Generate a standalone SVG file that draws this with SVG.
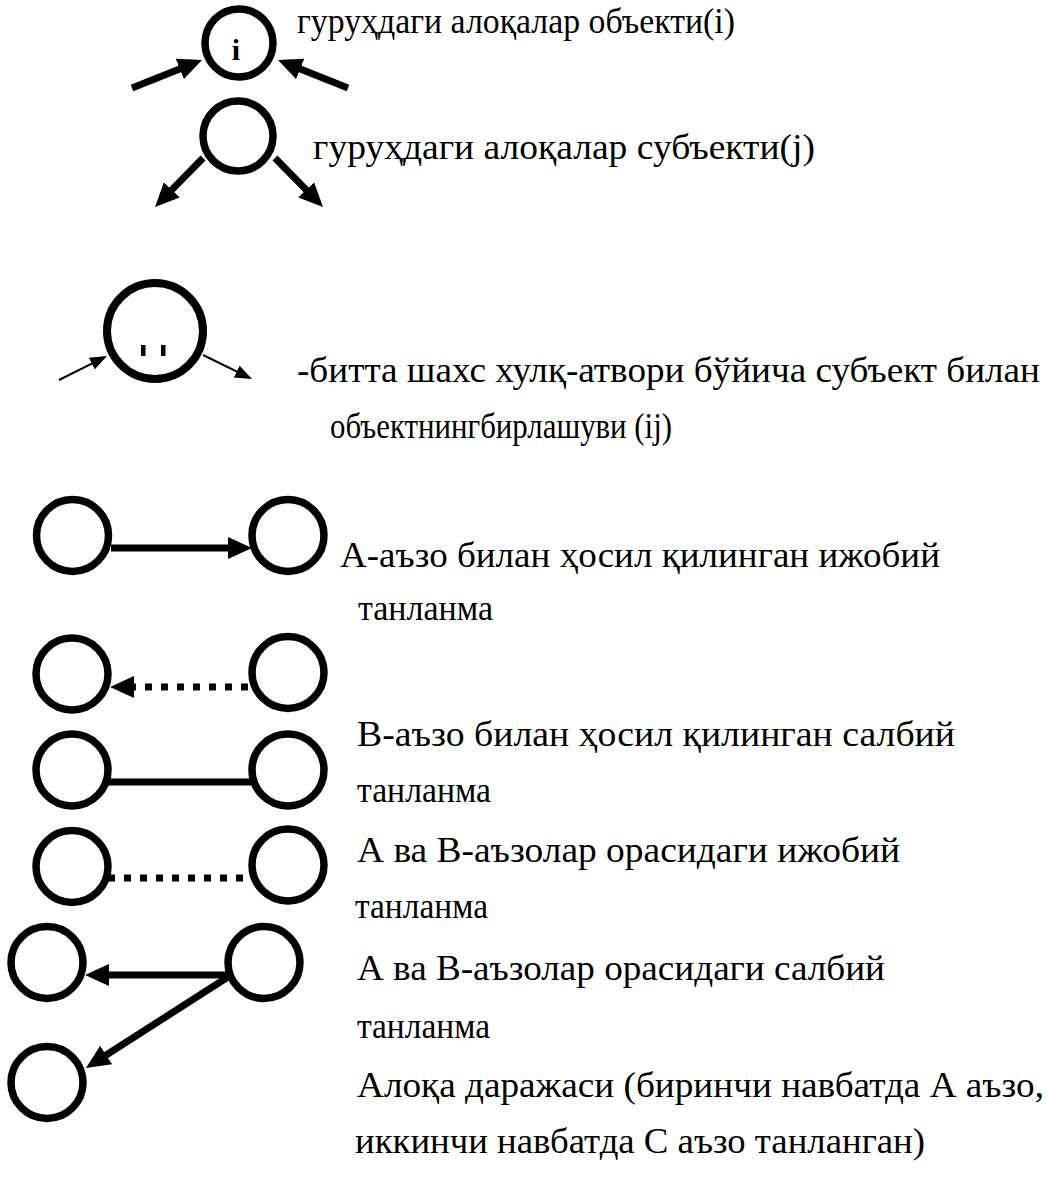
<svg xmlns="http://www.w3.org/2000/svg" width="1049" height="1203" viewBox="0 0 1049 1203">
<style>
.n{fill:none;stroke:#000;stroke-width:7.5}
.t{font-family:"Liberation Serif","Times New Roman",serif;font-size:36px;fill:#000}
.c{stroke:#000;stroke-width:7;fill:none}
.thin{stroke:#000;stroke-width:2;fill:none}
.dot{stroke-dasharray:7 9}
</style>
<defs>
<marker id="ah" markerUnits="userSpaceOnUse" markerWidth="24" markerHeight="22" refX="6" refY="11" orient="auto" viewBox="0 0 24 22">
<path d="M0,0 L24,11 L0,22 z" fill="#000"/>
</marker>
<marker id="as" markerUnits="userSpaceOnUse" markerWidth="17" markerHeight="13" refX="14" refY="6.5" orient="auto" viewBox="0 0 17 13">
<path d="M0,0 L17,6.5 L0,13 z" fill="#000"/>
</marker>
</defs>
<rect width="1049" height="1203" fill="#fff"/>
<g id="node-object">
<circle class="n" cx="239" cy="43" r="34"/>
<text x="236" y="60" font-family="Liberation Serif,serif" font-weight="bold" font-size="30" text-anchor="middle">i</text>
</g>
<g id="node-subject">
<circle class="n" cx="238" cy="136" r="35"/>
</g>
<g id="node-ij">
<circle cx="155" cy="331" r="48" fill="none" stroke="#000" stroke-width="8"/>
<rect x="141" y="345" width="4.5" height="11" fill="#000"/>
<rect x="161" y="345" width="4.5" height="11" fill="#000"/>
</g>
<g id="row1">
<circle class="n" cx="72.5" cy="535.5" r="36"/>
<circle class="n" cx="288" cy="535.5" r="36"/>
</g>
<g id="row2">
<circle class="n" cx="72" cy="674" r="36"/>
<circle class="n" cx="288" cy="672.5" r="36"/>
</g>
<g id="row3">
<circle class="n" cx="72" cy="770" r="36"/>
<circle class="n" cx="288" cy="770" r="36"/>
</g>
<g id="row4">
<circle class="n" cx="72" cy="866.5" r="36"/>
<circle class="n" cx="288" cy="865" r="36"/>
</g>
<g id="row5">
<circle class="n" cx="47" cy="962.5" r="36"/>
<circle class="n" cx="264" cy="962.5" r="36"/>
<circle class="n" cx="47" cy="1082.5" r="36"/>
</g>
<g id="connectors">
<line class="c" x1="132" y1="88" x2="185.3" y2="66.7" marker-end="url(#ah)"/>
<line class="c" x1="348" y1="88" x2="294.7" y2="66.7" marker-end="url(#ah)"/>
<line class="c" x1="203" y1="158" x2="167.6" y2="194.1" marker-end="url(#ah)"/>
<line class="c" x1="275" y1="158" x2="310.4" y2="194.1" marker-end="url(#ah)"/>
<line class="thin" x1="59" y1="380" x2="104.3" y2="357.3" marker-end="url(#as)"/>
<line class="thin" x1="203" y1="355" x2="249.3" y2="377.7" marker-end="url(#as)"/>
<line class="c" x1="111" y1="548" x2="234" y2="548" marker-end="url(#ah)"/>
<line class="c dot" x1="248" y1="687" x2="128" y2="687" marker-end="url(#ah)"/>
<line class="c" x1="108" y1="782" x2="252" y2="782"/>
<line class="c dot" x1="108" y1="878" x2="248" y2="878"/>
<line class="c" x1="228" y1="975" x2="103" y2="975" marker-end="url(#ah)"/>
<line class="c" x1="228" y1="977" x2="101.1" y2="1058.2" marker-end="url(#ah)"/>
</g>
<g id="labels">
<text class="t" x="297" y="33" textLength="438" lengthAdjust="spacingAndGlyphs">гуруҳдаги алоқалар объекти(i)</text>
<text class="t" x="313" y="159" textLength="502" lengthAdjust="spacingAndGlyphs">гуруҳдаги алоқалар субъекти(j)</text>
<text class="t" x="297" y="382" textLength="743" lengthAdjust="spacingAndGlyphs">-битта шахс хулқ-атвори бўйича субъект билан</text>
<text class="t" x="330" y="438" textLength="342" lengthAdjust="spacingAndGlyphs">объектнингбирлашуви (ij)</text>
<text class="t" x="340" y="567" textLength="600" lengthAdjust="spacingAndGlyphs">А-аъзо билан ҳосил қилинган ижобий</text>
<text class="t" x="358" y="620" textLength="135" lengthAdjust="spacingAndGlyphs">танланма</text>
<text class="t" x="357" y="746" textLength="598" lengthAdjust="spacingAndGlyphs">В-аъзо билан ҳосил қилинган салбий</text>
<text class="t" x="357" y="802" textLength="134" lengthAdjust="spacingAndGlyphs">танланма</text>
<text class="t" x="357" y="862" textLength="543" lengthAdjust="spacingAndGlyphs">А ва В-аъзолар орасидаги ижобий</text>
<text class="t" x="355" y="918" textLength="133" lengthAdjust="spacingAndGlyphs">танланма</text>
<text class="t" x="357" y="980" textLength="528" lengthAdjust="spacingAndGlyphs">А ва В-аъзолар орасидаги салбий</text>
<text class="t" x="357" y="1038" textLength="133" lengthAdjust="spacingAndGlyphs">танланма</text>
<text class="t" x="357" y="1097" textLength="687" lengthAdjust="spacingAndGlyphs">Алоқа даражаси (биринчи навбатда А аъзо,</text>
<text class="t" x="355" y="1153" textLength="570" lengthAdjust="spacingAndGlyphs">иккинчи навбатда С аъзо танланган)</text>
</g>
</svg>
